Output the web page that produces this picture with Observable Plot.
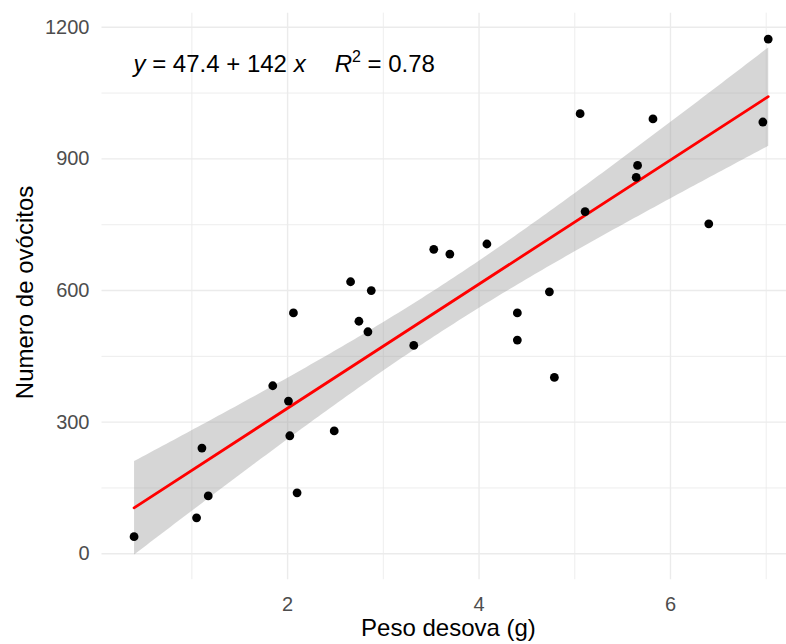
<!DOCTYPE html>
<html><head><meta charset="utf-8">
<script src="https://cdn.jsdelivr.net/npm/d3@7"></script>
<script src="https://cdn.jsdelivr.net/npm/@observablehq/plot@0.6"></script>
<style>html,body{margin:0;padding:0;background:#fff;overflow:hidden}</style>
</head><body><div id="chart"></div>
<script>
const peso = [0.396, 1.049, 1.105, 1.171, 1.845, 2.009, 2.023, 2.061, 2.099, 2.487,
  2.658, 2.745, 2.839, 2.874, 3.318, 3.527, 3.695, 4.082, 4.400, 4.400,
  4.735, 4.787, 5.056, 5.108, 5.642, 5.656, 5.817, 6.400, 6.965, 7.021];
const ovocitos = [39, 82, 241, 132, 383, 348, 269, 549, 139, 280,
  620, 530, 506, 600, 475, 694, 683, 706, 549, 487,
  597, 402, 1003, 780, 858, 885, 991, 752, 984, 1173];
const xTicks = [2, 4, 6];
const xMinor = [1, 3, 5, 7];
const yTicks = [0, 300, 600, 900, 1200];
const yMinor = [150, 450, 750, 1050];
const xLabel = "Peso desova (g)";
const yLabel = "Numero de ovócitos";
const eqIntercept = "47.4";
const eqSlope = "142";
const eqR2 = "0.78";

const data = peso.map((x, i) => ({x, y: ovocitos[i]}));
const EQ = "__EQ__";

const plot = Plot.plot({
  width: 786,
  height: 644,
  marginLeft: 101.5,
  marginRight: -13.4,
  marginTop: 12.7,
  marginBottom: 64.8,
  style: {fontFamily: "'Liberation Sans', Arial, sans-serif", fontSize: "20px", background: "#fff", overflow: "hidden"},
  x: {domain: [0.061, 7.352]},
  y: {domain: [-59, 1232]},
  marks: [
    Plot.gridX(xMinor, {stroke: "#ebebeb", strokeOpacity: 1, strokeWidth: 0.9}),
    Plot.gridY(yMinor, {stroke: "#ebebeb", strokeOpacity: 1, strokeWidth: 0.9}),
    Plot.gridX(xTicks, {stroke: "#ebebeb", strokeOpacity: 1, strokeWidth: 1.4}),
    Plot.gridY(yTicks, {stroke: "#ebebeb", strokeOpacity: 1, strokeWidth: 1.4}),
    Plot.axisX(xTicks, {tickSize: 0, tickPadding: 17, fontSize: 20, fill: "#4d4d4d", label: null, tickFormat: d => String(d)}),
    Plot.axisY(yTicks, {tickSize: 0, tickPadding: 12.5, fontSize: 20, fill: "#4d4d4d", label: null, tickFormat: d => String(d)}),
    Plot.linearRegressionY(data, {x: "x", y: "y", stroke: "red", strokeWidth: 2.8, fill: "#999999", fillOpacity: 0.4, ci: 0.95}),
    Plot.dot(data, {x: "x", y: "y", r: 4.4, fill: "black", stroke: "none"}),
    Plot.text([xLabel], {text: d => d, frameAnchor: "bottom", dx: -2.5, dy: 48.5, fontSize: 24, fill: "black", lineAnchor: "middle", textAnchor: "middle"}),
    Plot.text([yLabel], {text: d => d, frameAnchor: "left", dx: -76.2, dy: -4, rotate: -90, fontSize: 24, fill: "black", lineAnchor: "middle", textAnchor: "middle"}),
    Plot.text([EQ], {text: d => d, frameAnchor: "top-left", dx: 31.5, dy: 51.6, fontSize: 24, fill: "black", lineAnchor: "middle", textAnchor: "start"})
  ]
});

// Build the mixed-style equation label (italic variables, superscript)
d3.select(plot).selectAll("text").filter(function() { return this.textContent === EQ; }).each(function() {
  const t = d3.select(this);
  t.text(null);
  t.append("tspan").attr("font-style", "italic").text("y");
  t.append("tspan").text(" = " + eqIntercept + " + " + eqSlope + " ");
  t.append("tspan").attr("font-style", "italic").text("x");
  t.append("tspan").attr("font-style", "italic").attr("dx", 29).text("R");
  t.append("tspan").attr("font-size", 16).attr("dy", -10).text("2");
  t.append("tspan").attr("dy", 10).text(" = " + eqR2);
});

document.getElementById("chart").appendChild(plot);
</script>
</body></html>
